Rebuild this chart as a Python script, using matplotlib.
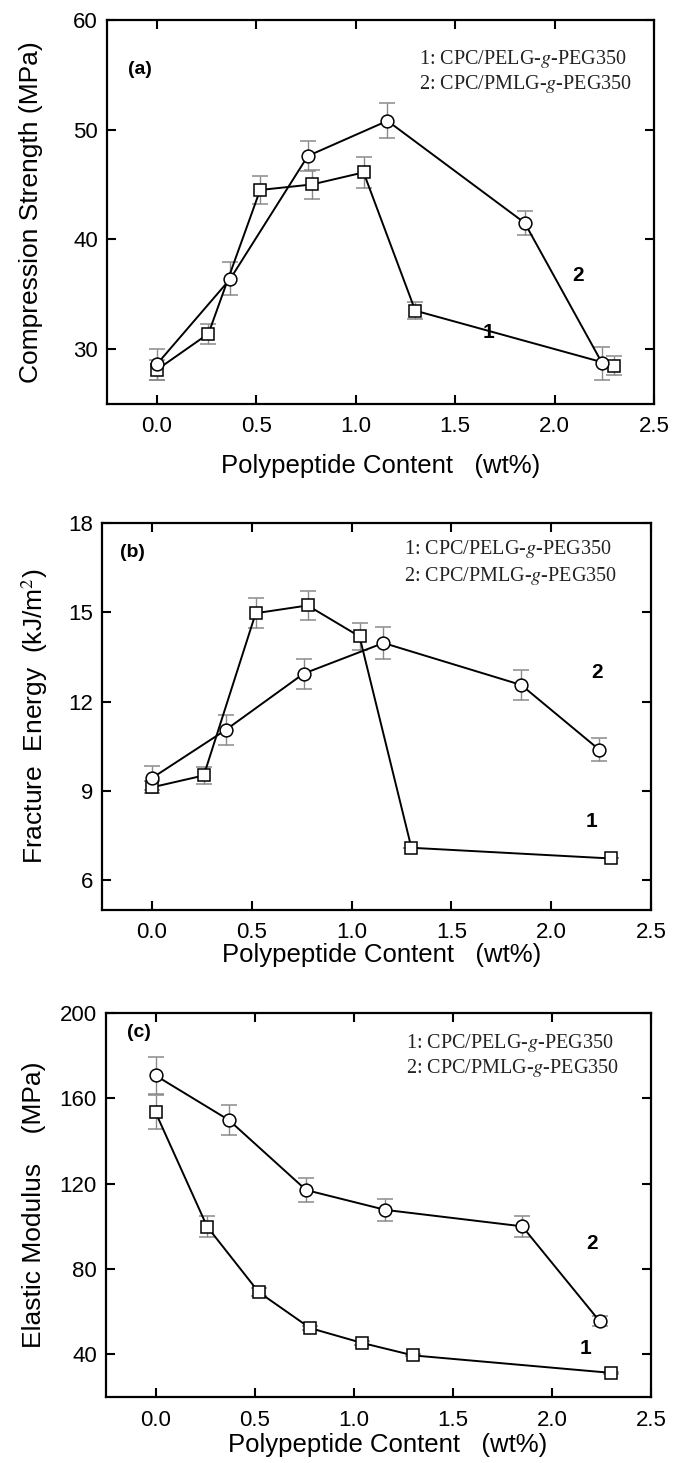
import matplotlib
matplotlib.use("Agg")
import matplotlib.pyplot as plt

plt.rcParams['font.family'] = ['Liberation Sans', 'DejaVu Sans']
plt.rcParams['mathtext.fontset'] = 'stix'

# ---- data ----
x_pelg = [0.0, 0.26, 0.52, 0.78, 1.04, 1.30, 2.30]
x_pmlg = [0.0, 0.37, 0.76, 1.16, 1.85, 2.24]

# (a) compression strength, MPa
cs_pelg = [28.1, 31.4, 44.5, 45.0, 46.1, 33.5, 28.5]
cs_pelg_err = [0.9, 0.9, 1.3, 1.3, 1.4, 0.8, 0.9]
cs_pmlg = [28.6, 36.4, 47.6, 50.8, 41.5, 28.7]
cs_pmlg_err = [1.4, 1.5, 1.4, 1.6, 1.1, 1.5]

# (b) fracture energy, kJ/m2
fe_pelg = [9.12, 9.52, 14.97, 15.23, 14.19, 7.09, 6.73]
fe_pelg_err = [0.2, 0.3, 0.5, 0.5, 0.45, 0.0, 0.0]
fe_pmlg = [9.43, 11.05, 12.94, 13.97, 12.56, 10.39]
fe_pmlg_err = [0.4, 0.5, 0.5, 0.55, 0.5, 0.4]

# (c) elastic modulus, MPa
em_pelg = [153.4, 99.9, 69.2, 52.3, 45.4, 39.5, 31.3]
em_pelg_err = [8.0, 5.0, 2.0, 1.0, 1.0, 0.5, 0.5]
em_pmlg = [170.7, 149.8, 117.0, 107.7, 100.0, 55.6]
em_pmlg_err = [8.5, 7.0, 5.5, 5.0, 5.0, 2.5]

legend_lines = ['1: CPC/PELG-$g$-PEG350', '2: CPC/PMLG-$g$-PEG350']
xticks = [0.0, 0.5, 1.0, 1.5, 2.0, 2.5]
xticklabels = ['0.0', '0.5', '1.0', '1.5', '2.0', '2.5']


fig = plt.figure(figsize=(6.84, 14.63), dpi=100)


def draw_panel(rect, y1, e1, y2, e2, ylim, yticks, ylabel, tag, tag_xy,
               leg_xy, leg_gap, pos1, pos2, xlab_xy, ylab_x):
    ax = fig.add_axes(rect)
    ax.errorbar(x_pelg, y1, yerr=e1, color='black', lw=1.4, marker='s',
                ms=8, mfc='white', mec='black', mew=1.1,
                ecolor='#8a8a8a', elinewidth=1.0, capsize=5.5, capthick=1.0,
                zorder=3)
    ax.errorbar(x_pmlg, y2, yerr=e2, color='black', lw=1.4, marker='o',
                ms=9.2, mfc='white', mec='black', mew=1.1,
                ecolor='#8a8a8a', elinewidth=1.0, capsize=5.5, capthick=1.0,
                zorder=3)
    ax.set_xlim(-0.25, 2.5)
    ax.set_ylim(*ylim)
    ax.set_xticks(xticks)
    ax.set_xticklabels(xticklabels)
    ax.set_yticks(yticks)
    ax.tick_params(direction='in', length=6.5, width=1.5, labelsize=16,
                   top=True, right=True)
    ax.tick_params(axis='x', pad=9)
    ax.tick_params(axis='y', pad=6.5)
    for s in ax.spines.values():
        s.set_linewidth(1.6)
    ax.set_xlabel('Polypeptide Content   (wt%)', fontsize=18.5)
    ax.xaxis.set_label_coords(*xlab_xy)
    ax.set_ylabel(ylabel, fontsize=19)
    ax.yaxis.set_label_coords(ylab_x, 0.5)
    ax.text(tag_xy[0], tag_xy[1], tag, transform=ax.transAxes, fontsize=14,
            fontweight='bold', va='center')
    ax.text(leg_xy[0], leg_xy[1], legend_lines[0], transform=ax.transAxes,
            fontsize=14.5, family='Liberation Serif', va='center',
            color='#222222')
    ax.text(leg_xy[0], leg_xy[1] - leg_gap, legend_lines[1],
            transform=ax.transAxes, fontsize=14.5, family='Liberation Serif',
            va='center', color='#222222')
    ax.text(pos1[0], pos1[1], '1', fontsize=15, fontweight='bold',
            ha='center', va='center')
    ax.text(pos2[0], pos2[1], '2', fontsize=15, fontweight='bold',
            ha='center', va='center')
    return ax


draw_panel([0.1564, 0.7239, 0.7997, 0.2625], cs_pelg, cs_pelg_err,
           cs_pmlg, cs_pmlg_err, (25, 60), [30, 40, 50, 60],
           'Compression Strength (MPa)', '(a)', (0.038, 0.870),
           (0.570, 0.898), 0.065, (1.67, 31.5), (2.12, 36.7),
           (0.5, -0.130), -0.117)

draw_panel([0.1491, 0.3780, 0.8026, 0.2645], fe_pelg, fe_pelg_err,
           fe_pmlg, fe_pmlg_err, (5, 18), [6, 9, 12, 15, 18],
           'Fracture  Energy  (kJ/m$^2$)', '(b)', (0.033, 0.925),
           (0.550, 0.933), 0.07, (2.2, 7.97), (2.23, 12.97),
           (0.509, -0.085), -0.095)

draw_panel([0.1550, 0.0451, 0.7968, 0.2625], em_pelg, em_pelg_err,
           em_pmlg, em_pmlg_err, (20, 200), [40, 80, 120, 160, 200],
           'Elastic Modulus    (MPa)', '(c)', (0.038, 0.948),
           (0.550, 0.922), 0.065, (2.17, 42.8), (2.2, 92),
           (0.516, -0.094), -0.11)

fig.savefig('out.png', dpi=100)
